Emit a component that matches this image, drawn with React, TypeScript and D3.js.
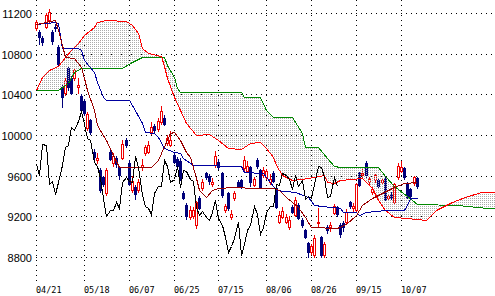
import React from "react";
import * as d3 from "d3";

// ---- data ----
const dateLabels = ["04/21", "05/18", "06/07", "06/25", "07/15", "08/06", "08/26", "09/15", "10/07"];
const dateIndex = [0, 15, 29, 43, 57, 72, 86, 100, 114];
const priceTicks = [8800, 9200, 9600, 10000, 10400, 10800, 11200];

const opens = [
  11050, 11010, 10955, 11060, 11130, 11010, 11060, 10870, 10470, 10410,
  10660, 10560, 10560, 10470, 10380, 10330, 10070, 10150, 9830, 9755,
  9656, 9587, 9430, 9833, 9725, 9774, 9685, 9774, 9951, 9725,
  9459, 9489, 9459, 9690, 9823, 9833, 10030, 10090, 10060, 10130,
  10170, 9920, 9900, 9803, 9760, 9740, 9430, 9310, 9190, 9200,
  9110, 9380, 9480, 9626, 9600, 9520, 9705, 9734, 9626, 9262,
  9430, 9190, 9380, 9538, 9557, 9675, 9650, 9685, 9510, 9754,
  9656, 9607, 9587, 9540, 9630, 9479, 9144, 9193, 9144, 9095,
  9292, 9213, 9311, 9164, 9066, 8938, 8850, 8820, 9140, 8997,
  8820, 9095, 9095, 9230, 9290, 9115, 9134, 9144, 9340, 9280,
  9262, 9626, 9607, 9725, 9538, 9439, 9560, 9557, 9538, 9577,
  9380, 9420, 9341, 9587, 9650, 9675, 9528, 9470, 9528, 9577,
];
const highs = [
  11130, 11030, 10975, 11200, 11240, 11030, 11090, 10890, 10500, 10560,
  10680, 10580, 10660, 10560, 10400, 10350, 10230, 10160, 9860, 9823,
  9680, 9600, 9680, 9850, 9820, 9790, 9700, 9950, 9970, 9750,
  9600, 9510, 9570, 9760, 9900, 9940, 10130, 10110, 10170, 10290,
  10200, 10000, 10040, 9830, 9780, 9775, 9450, 9330, 9300, 9290,
  9350, 9400, 9570, 9640, 9620, 9580, 9840, 9760, 9640, 9320,
  9440, 9260, 9450, 9560, 9570, 9790, 9740, 9700, 9590, 9770,
  9670, 9690, 9670, 9620, 9650, 9490, 9250, 9290, 9220, 9200,
  9310, 9390, 9330, 9180, 9080, 8950, 8930, 9020, 9282, 9010,
  8950, 9110, 9140, 9320, 9300, 9130, 9150, 9270, 9350, 9330,
  9530, 9640, 9690, 9740, 9590, 9500, 9620, 9570, 9580, 9590,
  9420, 9440, 9530, 9720, 9740, 9690, 9540, 9480, 9600, 9590,
];
const lows = [
  11030, 10900, 10890, 11050, 11110, 10900, 11020, 10690, 10280, 10390,
  10440, 10400, 10540, 10410, 10220, 10200, 10050, 10010, 9760, 9725,
  9440, 9500, 9410, 9750, 9700, 9685, 9570, 9760, 9880, 9510,
  9440, 9370, 9440, 9660, 9800, 9820, 10010, 10020, 10040, 10110,
  10100, 9900, 9890, 9720, 9670, 9560, 9370, 9170, 9170, 9180,
  9090, 9270, 9460, 9570, 9520, 9500, 9690, 9670, 9390, 9240,
  9260, 9170, 9360, 9490, 9480, 9660, 9640, 9500, 9500, 9680,
  9480, 9590, 9570, 9520, 9540, 9280, 9130, 9180, 9130, 9080,
  9230, 9200, 9170, 9100, 8990, 8800, 8830, 8800, 9095, 8800,
  8800, 9040, 9060, 9220, 9200, 9000, 9060, 9130, 9280, 9250,
  9240, 9500, 9590, 9590, 9520, 9420, 9540, 9480, 9520, 9360,
  9360, 9370, 9330, 9570, 9640, 9570, 9380, 9380, 9510, 9480,
];
const closes = [
  11110, 10960, 10915, 11180, 11210, 10920, 11050, 10700, 10370, 10540,
  10470, 10410, 10640, 10490, 10250, 10220, 10210, 10030, 9784, 9774,
  9459, 9522, 9656, 9768, 9790, 9711, 9603, 9914, 9901, 9520,
  9545, 9420, 9542, 9705, 9879, 9900, 10080, 10050, 10140, 10240,
  10112, 9970, 9950, 9737, 9693, 9573, 9382, 9200, 9260, 9266,
  9338, 9279, 9535, 9585, 9548, 9537, 9795, 9685, 9408, 9300,
  9278, 9220, 9431, 9503, 9496, 9753, 9697, 9537, 9570, 9694,
  9489, 9653, 9642, 9572, 9551, 9292, 9212, 9253, 9196, 9161,
  9240, 9362, 9179, 9116, 8995, 8845, 8906, 8991, 9149, 8824,
  8927, 9062, 9114, 9301, 9226, 9024, 9098, 9239, 9299, 9299,
  9516, 9509, 9626, 9602, 9566, 9471, 9603, 9495, 9559, 9369,
  9404, 9381, 9518, 9691, 9684, 9588, 9388, 9403, 9583, 9500,
];

// [day index, value]
const tenkan: [number, number][] = [
  [0, 11090], [6, 11130], [7, 11030], [8, 10885], [9, 10765], [12, 10757], [14, 10670],
  [15, 10560], [16, 10440], [18, 10246], [19, 10100], [22, 9950], [24, 9800], [26, 9685],
  [36, 9685], [38, 9755], [39, 9820], [42, 10020], [43, 10030], [45, 9950], [47, 9835],
  [48, 9785], [50, 9580], [51, 9460], [53, 9390], [55, 9460], [57, 9480], [62, 9490],
  [68, 9480], [74, 9480], [76, 9460], [78, 9390], [82, 9290], [84, 9195], [86, 9095],
  [94, 9085], [97, 9125], [100, 9213], [102, 9310], [105, 9380], [108, 9430], [112, 9490],
  [115, 9528], [119, 9538],
];
const kijun: [number, number][] = [
  [0, 11090], [6, 11110], [7, 11100], [8, 10856], [13, 10856], [14, 10836], [15, 10738],
  [18, 10620], [19, 10521], [21, 10374], [22, 10344], [29, 10344], [30, 10295], [33, 10118],
  [34, 10030], [37, 10020], [38, 9980], [40, 9872], [43, 9833], [45, 9823], [46, 9774],
  [49, 9705], [64, 9695], [65, 9636], [71, 9626], [73, 9538], [75, 9459], [81, 9439],
  [85, 9390], [87, 9311], [92, 9292], [95, 9282], [96, 9243], [100, 9243], [101, 9213],
  [103, 9243], [109, 9262], [115, 9262], [116, 9311], [117, 9380], [119, 9380],
];
const senkouA: [number, number][] = [
  [0, 10443], [2, 10570], [4, 10639], [7, 10679], [9, 10767], [11, 10836], [13, 10905],
  [15, 10984], [18, 11062], [19, 11111], [22, 11131], [28, 11121], [30, 11082], [32, 11003],
  [33, 10856], [35, 10807], [39, 10777], [40, 10679], [41, 10561], [43, 10374], [45, 10246],
  [47, 10118], [50, 10000], [54, 10010], [57, 9951], [60, 9872], [64, 9862], [67, 9921],
  [70, 9931], [72, 9872], [74, 9784], [75, 9705], [77, 9607], [80, 9557], [83, 9567],
  [90, 9607], [91, 9538], [93, 9528], [95, 9557], [102, 9577], [105, 9479], [107, 9361],
  [109, 9262], [112, 9193], [116, 9184], [122, 9164], [125, 9262], [130, 9341], [134, 9390],
  [139, 9439], [144, 9439],
];
const senkouB: [number, number][] = [
  [0, 10443], [7, 10443], [10, 10511], [12, 10620], [14, 10659], [27, 10659], [30, 10718],
  [33, 10767], [40, 10767], [41, 10689], [43, 10570], [44, 10462], [45, 10423], [64, 10423],
  [65, 10374], [70, 10374], [72, 10246], [74, 10177], [80, 10177], [83, 10020], [84, 9882],
  [88, 9882], [91, 9774], [93, 9695], [95, 9685], [107, 9685], [109, 9600], [112, 9500],
  [116, 9400], [119, 9320], [132, 9311], [141, 9282], [144, 9282],
];
const CHIKOU_SHIFT = 25;

export default function App() {
  const W = 495;
  const H = 296;
  const x = d3.scaleLinear().domain([0, 144]).range([36, 36 + 144 * 3.2]);
  const y = d3.scaleLinear().domain([8800, 11200]).range([257, 13]);

  const line = d3
    .line<[number, number]>()
    .x((d) => Math.round(x(d[0])) + 0.5)
    .y((d) => Math.round(y(d[1])) + 0.5);

  const chikou: [number, number][] = closes
    .slice(CHIKOU_SHIFT)
    .map((c, j) => [j, c] as [number, number]);

  const cloudPts = senkouA
    .map(([i, v]) => [x(i), y(v)])
    .concat(senkouB.slice().reverse().map(([i, v]) => [x(i), y(v)]));
  const cloudPath = "M" + cloudPts.map((p) => p[0] + "," + p[1]).join("L") + "Z";

  const RED = "#f00000";
  const NAVY = "#00007a";

  return (
    <svg
      width={W}
      height={H}
      viewBox={`0 0 ${W} ${H}`}
      style={{ position: "absolute", left: 0, top: 0, background: "#fff", display: "block" }}
    >
      <defs>
        <pattern id="dots" width="2" height="2" patternUnits="userSpaceOnUse">
          <rect x="0" y="0" width="1" height="1" fill="#ababab" />
        </pattern>
        <clipPath id="clip">
          <rect x="0" y="0" width={W} height={H} />
        </clipPath>
      </defs>
      <rect x="0" y="0" width={W} height={H} fill="#fff" />

      {/* grid */}
      <g stroke="#000" strokeWidth={1} strokeDasharray="1,4" shapeRendering="crispEdges">
        {priceTicks.map((v) => (
          <line key={"h" + v} x1={36} x2={W} y1={Math.round(y(v)) + 0.5} y2={Math.round(y(v)) + 0.5} />
        ))}
        {dateIndex.map((i) => (
          <line key={"v" + i} x1={Math.round(x(i)) + 0.5} x2={Math.round(x(i)) + 0.5} y1={0} y2={284} />
        ))}
      </g>

      {/* candles */}
      <g shapeRendering="crispEdges">
        {closes.map((c, i) => {
          const o = opens[i];
          const up = c >= o;
          const left = Math.round(x(i)) - 1;
          const top = Math.round(y(Math.max(o, c)));
          const bot = Math.round(y(Math.min(o, c)));
          const hgt = Math.max(1, bot - top);
          const col = up ? RED : NAVY;
          return (
            <g key={i}>
              <line
                x1={left + 1.5}
                x2={left + 1.5}
                y1={Math.round(y(highs[i]))}
                y2={Math.round(y(lows[i])) + 1}
                stroke={col}
                strokeWidth={1}
              />
              {up ? (
                <rect x={left + 0.5} y={top + 0.5} width={2} height={hgt} fill="#fff" stroke={RED} strokeWidth={1} />
              ) : (
                <rect x={left} y={top} width={3} height={hgt + 1} fill={NAVY} />
              )}
            </g>
          );
        })}
      </g>

      {/* cloud */}
      <path d={cloudPath} fill="url(#dots)" fillRule="nonzero" clipPath="url(#clip)" />

      {/* lines */}
      <g fill="none" strokeWidth={1} clipPath="url(#clip)" shapeRendering="crispEdges">
        <path d={line(senkouB) || ""} stroke="#008800" />
        <path d={line(senkouA) || ""} stroke="#ff0000" />
        <path d={line(kijun) || ""} stroke="#0000a0" />
        <path d={line(tenkan) || ""} stroke="#990000" />
        <path d={line(chikou) || ""} stroke="#000" />
      </g>

      {/* price labels */}
      <g fontFamily="'Liberation Sans', Arial, sans-serif" fontSize={11} fill="#000" textAnchor="end">
        {priceTicks.map((v) => (
          <text key={"t" + v} x={32} y={Math.round(y(v)) + 4.5}>
            {v}
          </text>
        ))}
      </g>

      {/* date labels */}
      <g fontFamily="'DejaVu Sans Mono', monospace" fontSize={8.5} fill="#000">
        {dateIndex.map((i, k) => (
          <text key={"d" + i} x={Math.round(x(i))} y={293}>
            {dateLabels[k]}
          </text>
        ))}
      </g>
    </svg>
  );
}
